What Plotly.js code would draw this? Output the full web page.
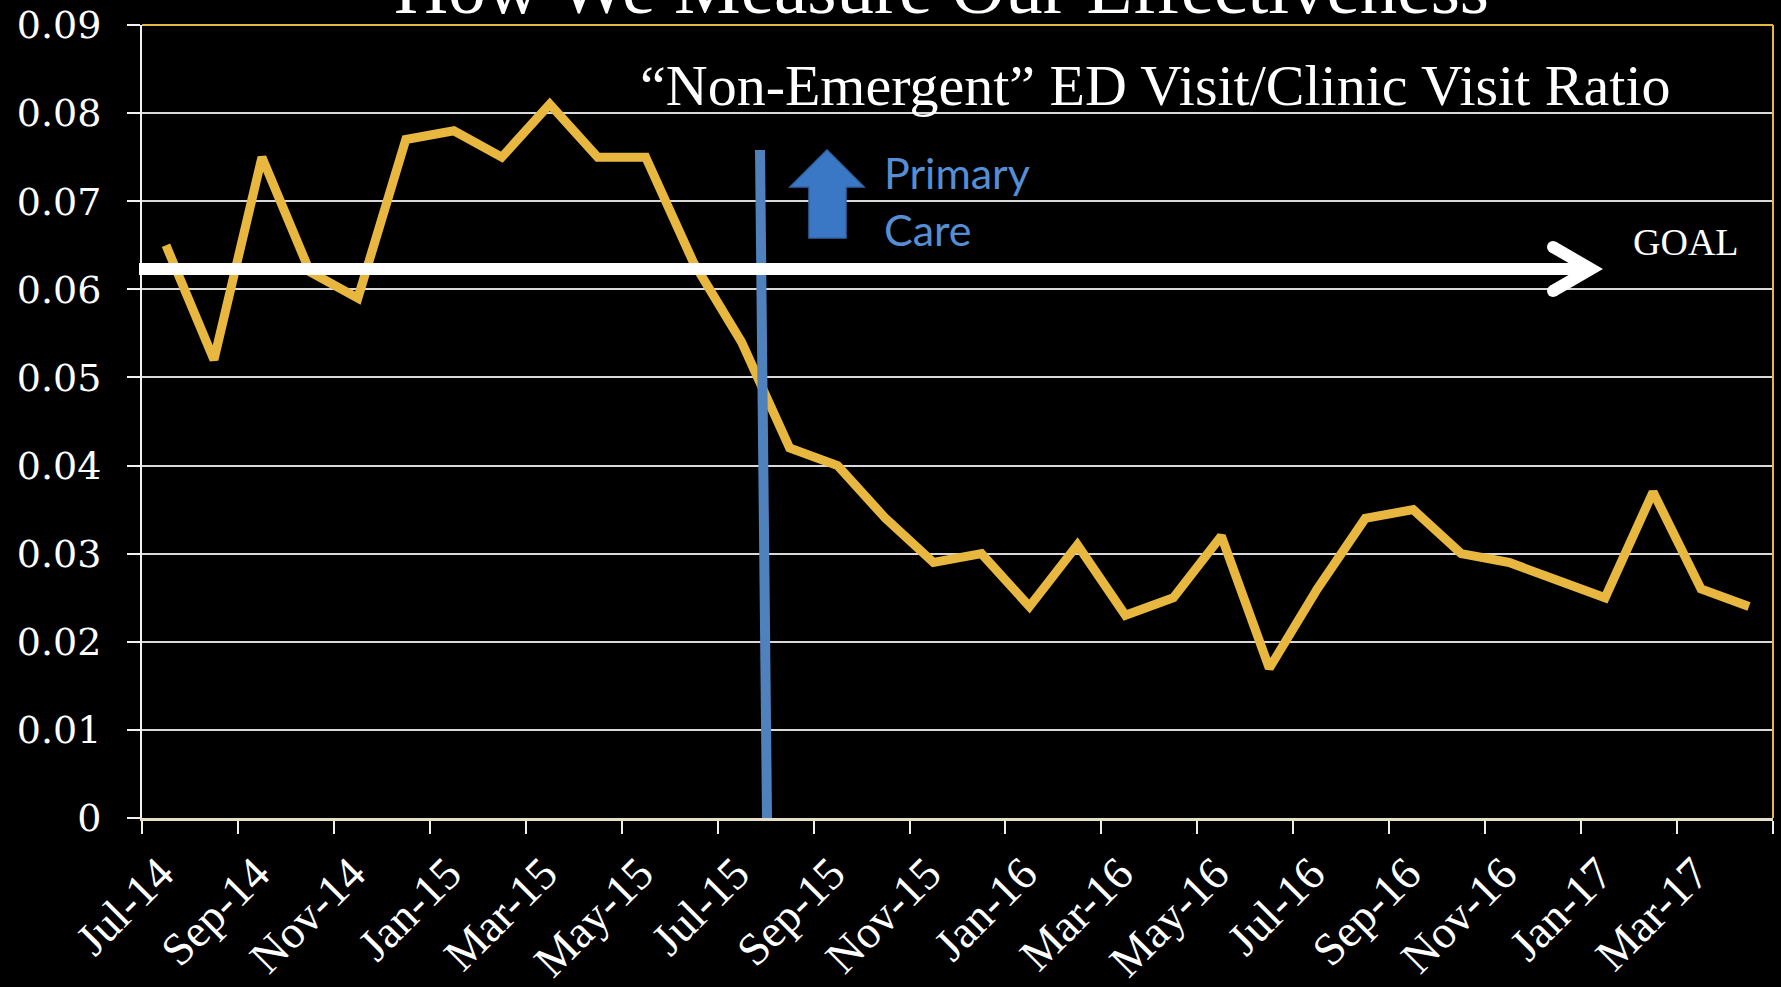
<!DOCTYPE html>
<html>
<head>
<meta charset="utf-8">
<script src="https://cdn.plot.ly/plotly-3.0.1.min.js"></script>
<style>
  html, body { margin: 0; padding: 0; background: #000; }
  #chart { width: 1781px; height: 987px; }
</style>
</head>
<body>
<div id="chart"></div>
<script>
// ---- Data ----
const months = ["Jul-14","Aug-14","Sep-14","Oct-14","Nov-14","Dec-14","Jan-15","Feb-15","Mar-15","Apr-15","May-15","Jun-15",
                "Jul-15","Aug-15","Sep-15","Oct-15","Nov-15","Dec-15","Jan-16","Feb-16","Mar-16","Apr-16","May-16","Jun-16",
                "Jul-16","Aug-16","Sep-16","Oct-16","Nov-16","Dec-16","Jan-17","Feb-17","Mar-17","Apr-17"];
const ratio = [0.065,0.052,0.075,0.062,0.059,0.077,0.078,0.075,0.081,0.075,0.075,0.063,
               0.054,0.042,0.040,0.034,0.029,0.030,0.024,0.031,0.023,0.025,0.032,0.017,
               0.026,0.034,0.035,0.030,0.029,0.027,0.025,0.037,0.026,0.024];
const yTickValues = [0,0.01,0.02,0.03,0.04,0.05,0.06,0.07,0.08,0.09];
const goalValue = 0.0623;
const titleText = "How We Measure Our Effectiveness";
const subtitleText = "\u201CNon-Emergent\u201D ED Visit/Clinic Visit Ratio";
const noteLines = ["Primary", "Care"];
const goalText = "GOAL";

// ---- Layout geometry (pixels of the 1781x987 page) ----
const W = 1781, H = 987;
const M = {l: 142, r: 8, t: 25, b: 169};
const plotW = W - M.l - M.r, plotH = H - M.t - M.b;
const px = x => (x - M.l) / plotW;          // page px -> paper x
const py = y => (H - M.b - y) / plotH;      // page px -> paper y
const P = (x, y) => px(x).toFixed(5) + "," + py(y).toFixed(5);

const idx = months.map((m, i) => i);
const tickIdx = idx.filter(i => i % 2 === 0);
const tickvals = tickIdx.map(i => i - 0.5).concat([months.length - 0.5]);
const ticktext = tickIdx.map(i => months[i]).concat([""]);

const gold = "#E7B740";
const blue = "#4F81BD";
const textBlue = "#558ED5";

const trace = {
  x: idx, y: ratio, type: "scatter", mode: "lines",
  line: {color: gold, width: 9, shape: "linear"},
  hoverinfo: "skip", showlegend: false
};

const layout = {
  width: W, height: H,
  paper_bgcolor: "#000", plot_bgcolor: "#000",
  margin: M,
  showlegend: false,
  xaxis: {
    range: [-0.5, months.length - 0.5],
    tickmode: "array", tickvals: tickvals, ticktext: ticktext,
    tickangle: -45,
    ticks: "outside", ticklen: 13, tickwidth: 2, tickcolor: "#f2efe6",
    showline: true, linecolor: "#e6dfc8", linewidth: 3,
    showgrid: false, zeroline: false,
    tickfont: {family: "Liberation Serif, serif", size: 46, color: "#ffffff"},
    ticklabelshift: 18, ticklabelstandoff: -6,
    fixedrange: true, automargin: false
  },
  yaxis: {
    range: [0, 0.09],
    tickmode: "array", tickvals: yTickValues, ticktext: yTickValues.map(v => String(v)),
    ticks: "outside", ticklen: 13, tickwidth: 2, tickcolor: "#f2f2f2",
    showline: true, linecolor: "#f2f2f2", linewidth: 2,
    showgrid: true, gridcolor: "#d9d9d9", gridwidth: 2,
    zeroline: false,
    tickfont: {family: "DejaVu Serif, serif", size: 38, color: "#ffffff"},
    ticklabelstandoff: 18,
    fixedrange: true, automargin: false
  },
  shapes: [
    // gold plot-area border (top & right)
    {type: "line", xref: "paper", yref: "paper", x0: 0, x1: 1, y0: 1, y1: 1, line: {color: gold, width: 2}, layer: "above"},
    {type: "line", xref: "paper", yref: "paper", x0: 1, x1: 1, y0: 0, y1: 1, line: {color: gold, width: 2}, layer: "above"},
    // blue "Primary Care" marker line
    {type: "line", xref: "paper", yref: "paper", x0: px(760), y0: py(150), x1: px(767), y1: 0,
     line: {color: blue, width: 10}, layer: "above"},
    // blue up arrow
    {type: "path", xref: "paper", yref: "paper",
     path: "M" + P(827,150) + " L" + P(864,187) + " L" + P(846,187) + " L" + P(846,238) +
           " L" + P(809,238) + " L" + P(809,187) + " L" + P(790,187) + " Z",
     fillcolor: "#3A78C6", line: {color: "#3466A8", width: 1.5}, layer: "above"},
    // goal arrow
    {type: "line", xref: "paper", yref: "y", x0: px(139), x1: px(1590), y0: goalValue, y1: goalValue,
     line: {color: "#ffffff", width: 12}, layer: "above"},
    {type: "path", xref: "paper", yref: "paper",
     path: "M" + P(1553,247) + " L" + P(1591,269) + " L" + P(1553,291),
     line: {color: "#ffffff", width: 12}, layer: "above"},
    {type: "circle", xref: "paper", yref: "paper", x0: px(1547), x1: px(1559), y0: py(241), y1: py(253),
     fillcolor: "#ffffff", line: {width: 0}, layer: "above"},
    {type: "circle", xref: "paper", yref: "paper", x0: px(1547), x1: px(1559), y0: py(285), y1: py(297),
     fillcolor: "#ffffff", line: {width: 0}, layer: "above"}
  ],
  annotations: [
    {text: titleText, xref: "paper", yref: "paper", x: px(941), y: py(31), xanchor: "center", yanchor: "bottom",
     showarrow: false, font: {family: "Liberation Serif, serif", size: 75, color: "#ffffff"}},
    {text: subtitleText, xref: "paper", yref: "paper", x: px(1155), y: py(86), xanchor: "center", yanchor: "middle",
     showarrow: false, font: {family: "Liberation Serif, serif", size: 58, color: "#ffffff"}},
    {text: noteLines[0], xref: "paper", yref: "paper", x: px(882), y: py(172), xanchor: "left", yanchor: "middle",
     showarrow: false, font: {family: "Lato, sans-serif", size: 43, color: textBlue}},
    {text: noteLines[1], xref: "paper", yref: "paper", x: px(882), y: py(230), xanchor: "left", yanchor: "middle",
     showarrow: false, font: {family: "Lato, sans-serif", size: 43, color: textBlue}},
    {text: goalText, xref: "paper", yref: "paper", x: px(1686), y: py(242), xanchor: "center", yanchor: "middle",
     showarrow: false, font: {family: "Liberation Serif, serif", size: 38, color: "#ffffff"}}
  ]
};

Plotly.newPlot("chart", [trace], layout, {staticPlot: true, displayModeBar: false});
</script>
</body>
</html>
